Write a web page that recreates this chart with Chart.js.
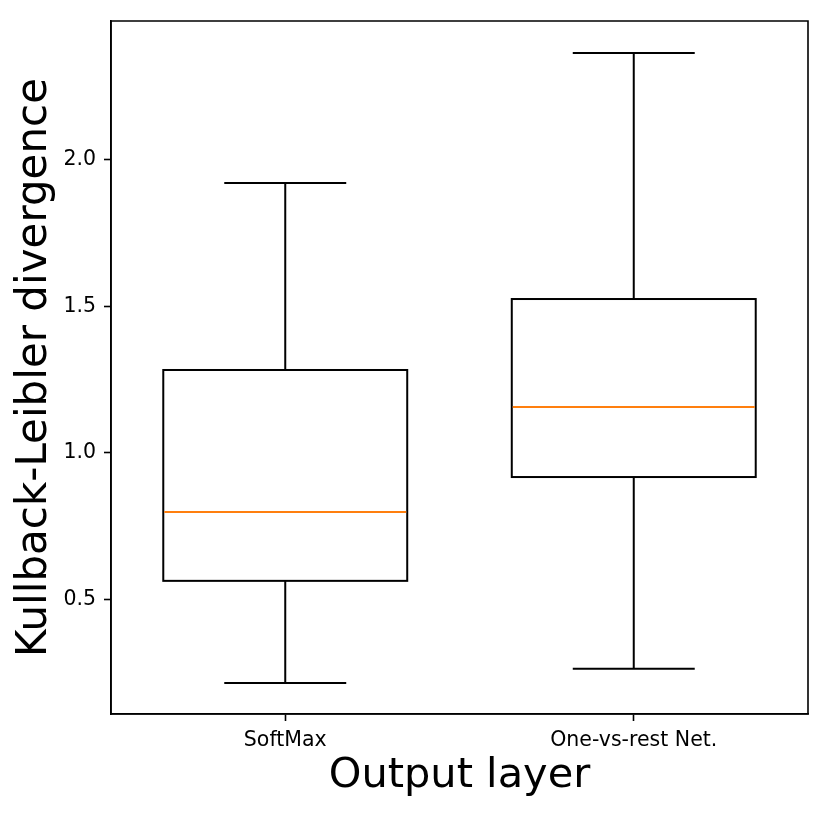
<!DOCTYPE html>
<html>
<head>
<meta charset="utf-8">
<script src="https://cdn.jsdelivr.net/npm/chart.js@4.4.1/dist/chart.umd.min.js"></script>
<style>
  html, body { margin: 0; padding: 0; background: #fff; }
  #wrap { width: 830px; height: 813px; }
</style>
</head>
<body>
<div id="wrap"><canvas id="c" width="830" height="813"></canvas></div>
<script>
const categories = ['SoftMax', 'One-vs-rest Net.'];
const whiskerLow  = [0.216, 0.264];
const quartile1   = [0.564, 0.918];
const medians     = [0.799, 1.157];
const quartile3   = [1.283, 1.525];
const whiskerHigh = [1.921, 2.364];
const yTicks = [0.5, 1.0, 1.5, 2.0];
const yMin = 0.110, yMax = 2.473;

const FONT = 'DejaVu Sans';

const boxPlugin = {
  id: 'boxplot',
  afterDatasetsDraw(chart) {
    const ctx = chart.ctx;
    const y = chart.scales.y;
    const meta = chart.getDatasetMeta(0);
    ctx.save();
    meta.data.forEach((bar, i) => {
      const cx = bar.x;
      const half = bar.width / 2;
      const capHalf = half / 2;
      ctx.strokeStyle = '#000';
      ctx.lineWidth = 2;
      ctx.lineCap = 'butt';
      ctx.lineJoin = 'miter';
      const pQ1 = y.getPixelForValue(quartile1[i]);
      const pQ3 = y.getPixelForValue(quartile3[i]);
      const pLo = y.getPixelForValue(whiskerLow[i]);
      const pHi = y.getPixelForValue(whiskerHigh[i]);
      ctx.strokeRect(cx - half, pQ3, 2 * half, pQ1 - pQ3);
      ctx.beginPath();
      ctx.moveTo(cx, pQ3); ctx.lineTo(cx, pHi);
      ctx.moveTo(cx, pQ1); ctx.lineTo(cx, pLo);
      ctx.moveTo(cx - capHalf, pHi); ctx.lineTo(cx + capHalf, pHi);
      ctx.moveTo(cx - capHalf, pLo); ctx.lineTo(cx + capHalf, pLo);
      ctx.stroke();
      const pMed = y.getPixelForValue(medians[i]);
      ctx.strokeStyle = '#ff7f0e';
      ctx.beginPath();
      ctx.moveTo(cx - half + 1, pMed); ctx.lineTo(cx + half - 1, pMed);
      ctx.stroke();
    });
    ctx.restore();
  },
  afterDraw(chart) {
    const {left, right, top, bottom} = chart.chartArea;
    const ctx = chart.ctx;
    ctx.save();
    ctx.strokeStyle = '#000';
    ctx.lineWidth = 1.6;
    ctx.beginPath();
    ctx.moveTo(left, bottom);
    ctx.lineTo(left, top);
    ctx.lineTo(right, top);
    ctx.lineTo(right, bottom);
    ctx.lineTo(left, bottom);
    ctx.stroke();
    ctx.restore();
  }
};

new Chart(document.getElementById('c'), {
  type: 'bar',
  data: {
    labels: categories,
    datasets: [{
      data: categories.map((_, i) => [quartile1[i], quartile3[i]]),
      backgroundColor: 'rgba(255,255,255,0)',
      borderColor: 'rgba(0,0,0,0)',
      borderWidth: 0,
      borderSkipped: false,
      barPercentage: 0.7,
      categoryPercentage: 1.0
    }]
  },
  options: {
    responsive: false,
    animation: false,
    devicePixelRatio: 1,
    layout: { padding: { left: 0, right: 22, top: 21, bottom: 0 } },
    plugins: { legend: { display: false }, tooltip: { enabled: false } },
    scales: {
      x: {
        type: 'category',
        offset: true,
        afterFit(s) { s.height = 99; },
        grid: { display: true, drawOnChartArea: false, offset: false, tickLength: 7, tickColor: '#000', tickWidth: 1.6 },
        border: { display: true, color: '#000', width: 1.6 },
        ticks: { color: '#000', font: { family: FONT, size: 20.5 }, padding: 7, maxRotation: 0 },
        title: { display: true, text: 'Output layer', color: '#000', font: { family: FONT, size: 41.5 }, padding: { top: 0, bottom: 12 } }
      },
      y: {
        type: 'linear',
        min: yMin,
        max: yMax,
        afterFit(s) { s.width = 111; },
        afterBuildTicks(s) { s.ticks = yTicks.map(v => ({ value: v })); },
        grid: { display: true, drawOnChartArea: false, tickLength: 7, tickColor: '#000', tickWidth: 1.6 },
        border: { display: true, color: '#000', width: 1.6 },
        ticks: { color: '#000', font: { family: FONT, size: 20.5 }, padding: 8, callback: v => Number(v).toFixed(1) },
        title: { display: true, text: 'Kullback-Leibler divergence', color: '#000', font: { family: FONT, size: 42 }, padding: { top: 10, bottom: 0 } }
      }
    }
  },
  plugins: [boxPlugin]
});
</script>
</body>
</html>
